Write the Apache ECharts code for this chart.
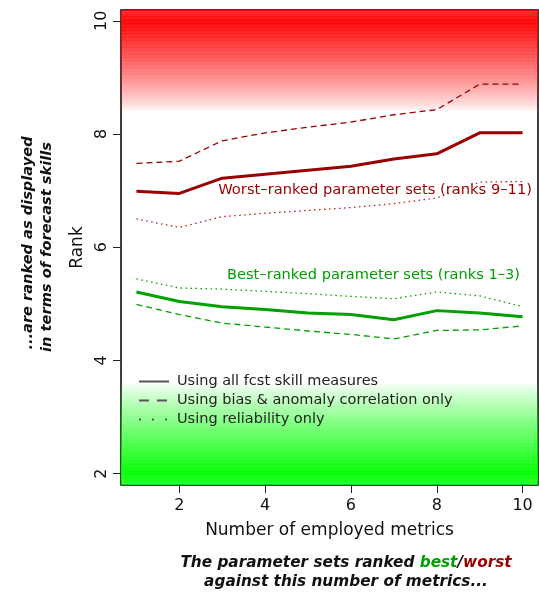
<!DOCTYPE html>
<html>
<head>
<meta charset="utf-8">
<script src="https://cdn.jsdelivr.net/npm/echarts@6/dist/echarts.min.js"></script>
<style>html,body{margin:0;padding:0;background:#fff}#c{width:539px;height:593px}</style>
</head>
<body>
<div id="c"></div>
<script>
// ---- data ----
var metrics = [1,2,3,4,5,6,7,8,9,10];
var worstAll = [6.99,6.95,7.22,7.29,7.36,7.43,7.56,7.65,8.02,8.02];
var worstBiasAC = [7.48,7.52,7.88,8.02,8.12,8.21,8.34,8.43,8.88,8.88];
var worstRel = [6.50,6.35,6.54,6.60,6.65,6.70,6.77,6.87,7.15,7.16];
var bestAll = [5.21,5.04,4.95,4.90,4.84,4.81,4.72,4.88,4.84,4.77];
var bestBiasAC = [4.99,4.81,4.66,4.59,4.52,4.46,4.38,4.53,4.54,4.61];
var bestRel = [5.44,5.28,5.26,5.22,5.18,5.13,5.09,5.21,5.14,4.95];
var tickValues = [2,4,6,8,10];

function pairs(ys){ return metrics.map(function(x,i){ return [x, ys[i]]; }); }

var FONT = 'DejaVu Sans';
var DARKRED = '#990000';
var GREEN = '#00a000';

// striped gradients for background
function redGradient(){
  var stops = [];
  var top = 10.19, bot = 8.39, N = 60;
  for (var i = 0; i <= N; i++){
    var off = i / N;
    var v = top - off * (top - bot);
    var a;
    if (v >= 10) a = 1 - (v - 10) * 0.9;
    else a = Math.pow((v - bot) / (10 - bot), 0.8);
    var stripe = (i % 2 === 0) ? 0 : 0.08 * a;
    a = Math.max(0, Math.min(1, a - stripe));
    stops.push({offset: off, color: 'rgba(255,0,0,' + a.toFixed(3) + ')'});
  }
  return new echarts.graphic.LinearGradient(0,0,0,1,stops);
}
function greenGradient(){
  var stops = [];
  var top = 3.61, bot = 1.8, N = 60;
  for (var i = 0; i <= N; i++){
    var off = i / N;
    var v = top - off * (top - bot);
    var a;
    if (v <= 2) a = 1 - (2 - v) * 0.9;
    else a = Math.pow((top - v) / (top - 2), 0.85);
    var stripe = (i % 2 === 0) ? 0 : 0.08 * a;
    a = Math.max(0, Math.min(1, a - stripe));
    stops.push({offset: off, color: 'rgba(0,255,0,' + a.toFixed(3) + ')'});
  }
  return new echarts.graphic.LinearGradient(0,0,0,1,stops);
}

var chart = echarts.init(document.getElementById('c'), null, {renderer:'canvas'});

function lineSeries(name, data, color, width, type, z){
  return {
    name: name, type: 'line', data: pairs(data), symbol: 'none', showSymbol: false,
    lineStyle: {color: color, width: width, type: type, cap: 'butt'},
    itemStyle: {color: color}, z: z || 3, silent: true, animation: false
  };
}

var legendNames = ['Using all fcst skill measures','Using bias & anomaly correlation only','Using reliability only'];

var option = {
  animation: false,
  textStyle: {fontFamily: FONT},
  grid: {left: 121, right: 1, top: 10, bottom: 108, show: true, borderColor: '#000', borderWidth: 1.5, backgroundColor: 'transparent'},
  xAxis: {
    type: 'value', min: 0.64, max: 10.36,
    axisLine: {show: false},
    splitLine: {show: false},
    axisTick: {show: true, customValues: tickValues, length: 8, lineStyle: {color: '#222', width: 1}},
    axisLabel: {customValues: tickValues, fontSize: 16, color: '#111', margin: 13, fontFamily: FONT},
    name: 'Number of employed metrics', nameLocation: 'middle', nameGap: 37,
    nameTextStyle: {fontSize: 17, color: '#111', fontFamily: FONT}
  },
  yAxis: {
    type: 'value', min: 1.8, max: 10.19,
    axisLine: {show: false},
    splitLine: {show: false},
    axisTick: {show: true, customValues: tickValues, length: 8, lineStyle: {color: '#222', width: 1}},
    axisLabel: {customValues: tickValues, fontSize: 16, color: '#111', margin: 11, rotate: 90, fontFamily: FONT},
    name: 'Rank', nameLocation: 'middle', nameGap: 35, nameRotate: 90,
    nameTextStyle: {fontSize: 17, color: '#111', fontFamily: FONT}
  },
  legend: {
    data: legendNames,
    orient: 'vertical', left: 133, top: 369,
    itemWidth: 30, itemHeight: 10, itemGap: 4,
    itemStyle: {opacity: 0},
    textStyle: {fontSize: 14.5, color: '#222', fontFamily: FONT, padding: [0,0,0,3]},
    selectedMode: false
  },
  series: [
    {
      type: 'line', data: [], silent: true, z: 1,
      markArea: {
        silent: true,
        data: [
          [{yAxis: 8.39, itemStyle: {color: redGradient()}}, {yAxis: 10.19}],
          [{yAxis: 1.8, itemStyle: {color: greenGradient()}}, {yAxis: 3.61}]
        ]
      }
    },
    lineSeries(legendNames[0], [], '#555', 2, 'solid', 2),
    lineSeries(legendNames[1], [], '#555', 2, [10,8], 2),
    lineSeries(legendNames[2], [], '#555', 2, [2,11], 2),
    lineSeries('worstAll', worstAll, DARKRED, 3, 'solid', 4),
    lineSeries('worstBiasAC', worstBiasAC, DARKRED, 1.3, [6,4], 4),
    lineSeries('worstRel', worstRel, '#b02020', 1.3, [1.5,3.5], 4),
    lineSeries('bestAll', bestAll, GREEN, 3, 'solid', 4),
    lineSeries('bestBiasAC', bestBiasAC, GREEN, 1.3, [6,4], 4),
    lineSeries('bestRel', bestRel, GREEN, 1.3, [1.5,3.5], 4)
  ],
  graphic: [
    {type: 'text', right: 7, top: 183, style: {text: 'Worst\u2013ranked parameter sets (ranks 9\u201311)', fill: DARKRED, font: '14.7px "DejaVu Sans"'}},
    {type: 'text', right: 19, top: 268, style: {text: 'Best\u2013ranked parameter sets (ranks 1\u20133)', fill: GREEN, font: '14.6px "DejaVu Sans"'}},
    {type: 'text', x: 28, y: 243, rotation: Math.PI/2, style: {text: '...are ranked as displayed', fill: '#111', font: 'italic bold 14.6px "DejaVu Sans"', align: 'center', verticalAlign: 'middle'}},
    {type: 'text', x: 47, y: 247, rotation: Math.PI/2, style: {text: 'in terms of forecast skills', fill: '#111', font: 'italic bold 14.6px "DejaVu Sans"', align: 'center', verticalAlign: 'middle'}},
    {type: 'text', x: 346, y: 563, style: {
      text: '{k|The parameter sets ranked }{g|best}{k|/}{r|worst}',
      align: 'center', verticalAlign: 'middle',
      rich: {
        k: {fill: '#111', font: 'italic bold 15.3px "DejaVu Sans"'},
        g: {fill: GREEN, font: 'italic bold 15.3px "DejaVu Sans"'},
        r: {fill: DARKRED, font: 'italic bold 15.3px "DejaVu Sans"'}
      }
    }},
    {type: 'text', x: 346, y: 582, style: {text: 'against this number of metrics...', fill: '#111', font: 'italic bold 15.3px "DejaVu Sans"', align: 'center', verticalAlign: 'middle'}}
  ]
};
chart.setOption(option);
</script>
</body>
</html>
